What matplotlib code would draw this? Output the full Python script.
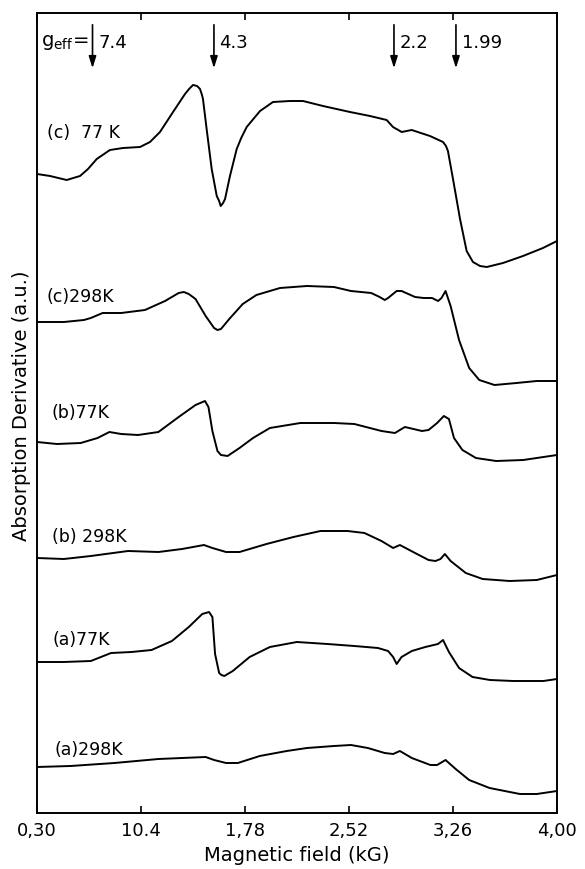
import matplotlib
matplotlib.use("Agg")
import matplotlib.pyplot as plt

# magnetic field (kG) and absorption derivative (a.u., traces already stacked)
C77_X = [0.300, 0.393, 0.511, 0.606, 0.663, 0.725, 0.819, 0.912, 1.033, 1.104, 1.175, 1.268,
         1.353, 1.382, 1.410, 1.439, 1.460, 1.474, 1.481, 1.507, 1.543, 1.579, 1.596, 1.607,
         1.624, 1.638, 1.673, 1.721, 1.753, 1.792, 1.887, 1.979, 2.100, 2.193, 2.335, 2.527,
         2.669, 2.788, 2.833, 2.895, 2.966, 3.096, 3.189, 3.210, 3.224, 3.260, 3.310, 3.357,
         3.402, 3.452, 3.500, 3.616, 3.758, 3.900, 4.000]
C77_Y = [639, 637, 633, 637, 644, 654, 663, 665, 666, 671, 681, 701,
         719, 724, 728, 727, 724, 718, 714, 684, 644, 617, 612, 607,
         610, 614, 637, 664, 675, 686, 702, 711, 712, 712, 707, 701,
         697, 693, 686, 681, 683, 677, 671, 667, 662, 634, 594, 562,
         551, 547, 546, 550, 557, 565, 572]

C298_X = [0.300, 0.491, 0.634, 0.683, 0.767, 0.899, 1.068, 1.211, 1.308, 1.345, 1.380, 1.428,
          1.500, 1.560, 1.584, 1.609, 1.668, 1.764, 1.861, 2.029, 2.221, 2.413, 2.534, 2.678,
          2.738, 2.774, 2.798, 2.859, 2.894, 2.990, 3.051, 3.111, 3.154, 3.178, 3.207, 3.243,
          3.303, 3.375, 3.447, 3.555, 3.712, 3.856, 4.000]
C298_Y = [491, 491, 493, 495, 500, 500, 503, 512, 520, 521, 519, 514,
          497, 485, 483, 484, 494, 509, 518, 525, 527, 526, 522, 520,
          516, 513, 515, 522, 522, 516, 515, 515, 512, 515, 522, 507,
          473, 445, 433, 428, 430, 432, 432]

B77_X = [0.300, 0.442, 0.611, 0.731, 0.815, 0.899, 1.019, 1.164, 1.308, 1.428, 1.495, 1.520,
         1.548, 1.584, 1.609, 1.656, 1.741, 1.837, 1.957, 2.174, 2.413, 2.558, 2.751, 2.847,
         2.882, 2.918, 3.039, 3.086, 3.147, 3.195, 3.231, 3.267, 3.327, 3.423, 3.567, 3.760,
         4.000]
B77_Y = [371, 369, 370, 375, 381, 379, 378, 381, 396, 408, 412, 406,
         382, 362, 358, 357, 365, 375, 385, 390, 390, 389, 382, 380,
         383, 386, 382, 383, 390, 397, 394, 375, 363, 355, 352, 353,
         358]

B298_X = [0.300, 0.491, 0.683, 0.948, 1.164, 1.332, 1.488, 1.548, 1.645, 1.741, 1.933, 2.125,
          2.317, 2.510, 2.630, 2.751, 2.834, 2.882, 2.990, 3.086, 3.135, 3.171, 3.202, 3.243,
          3.351, 3.471, 3.663, 3.856, 4.000]
B298_Y = [255, 254, 257, 262, 261, 264, 268, 265, 261, 261, 269, 276,
          282, 282, 280, 272, 265, 268, 260, 253, 252, 254, 259, 252,
          240, 234, 232, 233, 238]

A77_X = [0.300, 0.491, 0.683, 0.755, 0.827, 0.972, 1.115, 1.260, 1.380, 1.476, 1.524, 1.548,
         1.567, 1.596, 1.612, 1.633, 1.693, 1.813, 1.957, 2.149, 2.366, 2.558, 2.726, 2.798,
         2.834, 2.859, 2.894, 2.967, 3.063, 3.153, 3.189, 3.231, 3.303, 3.399, 3.523, 3.689,
         3.903, 4.000]
A77_Y = [151, 151, 152, 156, 160, 161, 163, 172, 186, 199, 201, 196,
         159, 140, 138, 137, 142, 156, 166, 171, 169, 167, 165, 162,
         156, 149, 156, 162, 166, 169, 173, 161, 145, 136, 133, 132,
         132, 134]

A298_X = [0.300, 0.538, 0.851, 1.164, 1.332, 1.500, 1.560, 1.645, 1.729, 1.885, 2.077, 2.221,
          2.413, 2.534, 2.654, 2.774, 2.834, 2.882, 2.967, 3.099, 3.147, 3.207, 3.279, 3.375,
          3.520, 3.736, 3.856, 4.000]
A298_Y = [46, 47, 50, 54, 55, 56, 53, 50, 50, 57, 62, 65,
          67, 68, 65, 60, 59, 62, 55, 48, 48, 53, 44, 33,
          25, 19, 19, 22]

TRACE_LABELS = ["(c)  77 K", "(c)298K", "(b)77K", "(b) 298K", "(a)77K", "(a)298K"]
LABEL_X = [0.371, 0.371, 0.40, 0.407, 0.407, 0.421]
LABEL_Y = [681, 517, 401, 277, 174, 64]

G_EFF = ["7.4", "4.3", "2.2", "1.99"]
G_FIELD = [0.695, 1.559, 2.840, 3.281]

TICKS = [0.30, 1.04, 1.78, 2.52, 3.26, 4.00]
TICK_LABELS = ["0,30", "10.4", "1,78", "2,52", "3,26", "4,00"]

fig = plt.figure(figsize=(5.85, 8.70), dpi=100)
ax = fig.add_axes([37 / 585, 56 / 870, 520 / 585, 800 / 870])

traces = [(C77_X, C77_Y), (C298_X, C298_Y), (B77_X, B77_Y),
          (B298_X, B298_Y), (A77_X, A77_Y), (A298_X, A298_Y)]
for xs, ys in traces:
    ax.plot(xs, ys, color="black", lw=1.4, solid_joinstyle="round")

for lab, lx, ly in zip(TRACE_LABELS, LABEL_X, LABEL_Y):
    ax.text(lx, ly, lab, fontsize=12.5, ha="left", va="center")

# g_eff markers
for g, f in zip(G_EFF, G_FIELD):
    ax.annotate("", xy=(f, 742), xytext=(f, 791),
                arrowprops=dict(arrowstyle="-|>,head_length=0.7,head_width=0.22",
                                color="black", lw=1.2))
    ax.text(f + 0.04, 771, g, fontsize=13, ha="left", va="center")
ax.text(0.328, 771, r"g$_{\mathregular{eff}}$=", fontsize=14, ha="left", va="center")

ax.set_xlim(0.30, 4.00)
ax.set_ylim(0, 800)
ax.set_xticks(TICKS)
ax.set_xticklabels(TICK_LABELS)
ax.set_yticks([])
ax.tick_params(axis="x", direction="in", top=True, length=5, width=1.2,
               labelsize=13, pad=6)
for sp in ax.spines.values():
    sp.set_linewidth(1.4)

ax.set_xlabel("Magnetic field (kG)", fontsize=14, labelpad=4)
ax.set_ylabel("Absorption Derivative (a.u.)", fontsize=14)
ax.yaxis.set_label_coords(-0.012, 0.51)

fig.savefig("out.png", dpi=100)
